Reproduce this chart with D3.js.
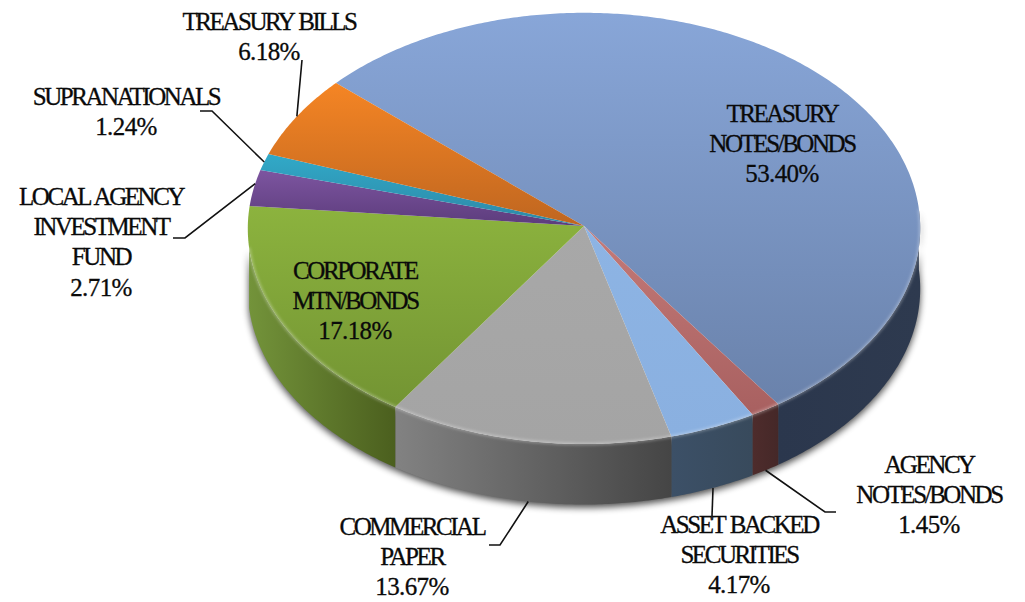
<!DOCTYPE html>
<html>
<head>
<meta charset="utf-8">
<script src="https://cdn.jsdelivr.net/npm/d3@7/dist/d3.min.js"></script>
<style>
html,body{margin:0;padding:0;background:#fff}
svg{display:block}
text{font-family:"Liberation Serif",serif;font-size:25px;fill:#0a0a0a;stroke:#0a0a0a;stroke-width:0.3px}
.name{letter-spacing:-2.45px;word-spacing:2px}
.share{letter-spacing:-0.6px}
</style>
</head>
<body>
<svg id="chart" width="1025" height="602"></svg>
<script>
// Portfolio allocation by security type, clockwise from the largest holding.
const categories = ["TREASURY NOTES/BONDS","AGENCY NOTES/BONDS","ASSET BACKED SECURITIES","COMMERCIAL PAPER","CORPORATE MTN/BONDS","LOCAL AGENCY INVESTMENT FUND","SUPRANATIONALS","TREASURY BILLS"];
const shares = [53.40,1.45,4.17,13.67,17.18,2.71,1.24,6.18];
const labelLines = [["TREASURY","NOTES/BONDS"],["AGENCY","NOTES/BONDS"],["ASSET BACKED","SECURITIES"],["COMMERCIAL","PAPER"],["CORPORATE","MTN/BONDS"],["LOCAL AGENCY","INVESTMENT","FUND"],["SUPRANATIONALS"],["TREASURY BILLS"]];

// Face colours: [top of the face, bottom of the face]
const faceColors = [["#88a6d8","#6a82ab"],["#c47a78","#a86060"],["#8db4e4","#8ab0e0"],["#a8a8a8","#a4a4a4"],["#8cb33e","#739433"],["#7d55a0","#5c3c7c"],["#31a9c8","#2d88a6"],["#f58524","#bf6620"]];
// Wall colours: [left end, right end]
const wallColors = [["#2b374d","#2e3a4f"],["#4e2c2c","#452828"],["#3c5067","#384a5c"],["#828282","#454545"],["#73933a","#4b5f1e"],["#5c3c7c","#5c3c7c"],["#2d88a6","#2d88a6"],["#bf6620","#bf6620"]];

// Label placement: centre x, first baseline y, and leader polyline (the rim end is computed)
const labelLayout = [
  {x:782,y:122,leader:null},
  {x:929,y:473,leader:[[836,512],[825,512]],phi:0.5},
  {x:739,y:533,leader:[[712,516]],phi:0.5},
  {x:412,y:535,leader:[[489,545],[500,545]],phi:0.5},
  {x:355,y:279,leader:null},
  {x:101,y:205,leader:[[173,238],[185,238]],phi:0.62},
  {x:126,y:105,leader:[[200,111],[212,111]],phi:0.5},
  {x:269,y:30,leader:[[302,60]],phi:0.5}
];

const svg = d3.select("#chart");

// The disc is a circle seen through an oblique view: an affine map of angle to screen.
const centre = {x:584, y:226};
const depth = 60.5;
const project = (a, lift = 0) => ({
  x: centre.x - 248*Math.cos(a) + 227*Math.sin(a),
  y: centre.y + 2.4 - 145.4*Math.cos(a) - 159.2*Math.sin(a) + lift
});

const pie = d3.pie().value(d => d).sort(null).startAngle(0).endAngle(2*Math.PI);
const slices = pie(shares);

// Rim stretch that faces the viewer, between the two horizontal extremes.
const wallStart = Math.PI - Math.atan(248/227);
const wallEnd = wallStart + Math.PI;

const defs = svg.append("defs");
defs.append("filter").attr("id","soft").attr("x","-10%").attr("y","-10%").attr("width","120%").attr("height","120%")
  .append("feGaussianBlur").attr("stdDeviation",3.5);
defs.append("filter").attr("id","edge").attr("x","-5%").attr("y","-5%").attr("width","110%").attr("height","110%")
  .append("feGaussianBlur").attr("stdDeviation",1.4);

const rimPoints = (a0, a1, lift) => {
  const n = Math.max(2, Math.ceil((a1 - a0) / 0.01));
  return d3.range(n + 1).map(i => project(a0 + (a1 - a0) * i / n, lift));
};
const line = d3.line().x(d => d.x).y(d => d.y);

// Soft shadow hugging the lower outline of the disc
svg.append("path")
  .attr("d", line(rimPoints(wallStart, wallEnd, depth).concat(rimPoints(wallStart, wallEnd, 0).reverse())) + "Z")
  .attr("fill","#000").attr("opacity",0.7)
  .attr("transform","translate(0,3)")
  .attr("filter","url(#soft)");

// Side walls, one per slice, clipped to the visible stretch of the rim
const walls = svg.append("g");
slices.forEach((s, i) => {
  const a0 = Math.max(s.startAngle, wallStart), a1 = Math.min(s.endAngle, wallEnd);
  if (a1 <= a0) return;
  const pts = rimPoints(a0, a1, 0).concat(rimPoints(a0, a1, depth).reverse());
  const xs = d3.extent(pts, p => p.x);
  const id = "wall" + i;
  const g = defs.append("linearGradient").attr("id", id).attr("gradientUnits","userSpaceOnUse")
    .attr("x1", xs[0]).attr("x2", xs[1]).attr("y1",0).attr("y2",0);
  g.append("stop").attr("offset",0).attr("stop-color", wallColors[i][0]);
  g.append("stop").attr("offset",1).attr("stop-color", wallColors[i][1]);
  walls.append("path").attr("d", line(pts) + "Z").attr("fill", `url(#${id})`);
});

// Top face, one wedge per slice with its own vertical shading range
const faces = svg.append("g");
slices.forEach((s, i) => {
  const pts = [centre].concat(rimPoints(s.startAngle, s.endAngle, 0));
  const ys = d3.extent(pts, p => p.y);
  const id = "face" + i;
  const g = defs.append("linearGradient").attr("id", id).attr("gradientUnits","userSpaceOnUse")
    .attr("x1",0).attr("x2",0).attr("y1", ys[0]).attr("y2", ys[1]);
  g.append("stop").attr("offset",0).attr("stop-color", faceColors[i][0]);
  g.append("stop").attr("offset",1).attr("stop-color", faceColors[i][1]);
  faces.append("path").attr("d", line(pts) + "Z").attr("fill", `url(#${id})`);
});

// Pale bevel along the front edge of the face
svg.append("path")
  .attr("d", line(rimPoints(wallStart, wallEnd, 0)))
  .attr("fill","none").attr("stroke","#fff").attr("stroke-opacity",0.4).attr("stroke-width",2)
  .attr("filter","url(#edge)");

// Leader lines from the rim to each outside label
const leaders = svg.append("g").attr("fill","none").attr("stroke","#111").attr("stroke-width",1.6);
slices.forEach((s, i) => {
  const l = labelLayout[i];
  if (!l.leader) return;
  const a = s.startAngle + (s.endAngle - s.startAngle) * l.phi;
  const onFront = a > wallStart && a < wallEnd;
  const anchor = project(a, onFront ? depth : 0);
  leaders.append("path").attr("d", line(l.leader.map(p => ({x:p[0], y:p[1]})).concat([anchor])));
});

// Category name lines followed by the share
const labels = svg.append("g").attr("text-anchor","middle");
shares.forEach((v, i) => {
  const l = labelLayout[i];
  const names = labelLines[i];
  const t = labels.append("text").attr("data-category", categories[i]);
  names.forEach((r, j) => t.append("tspan").attr("class","name").attr("x", l.x).attr("y", l.y + j * 30.2).text(r));
  t.append("tspan").attr("class","share").attr("x", l.x).attr("y", l.y + names.length * 30.2).text(v.toFixed(2) + "%");
});
</script>
</body>
</html>
